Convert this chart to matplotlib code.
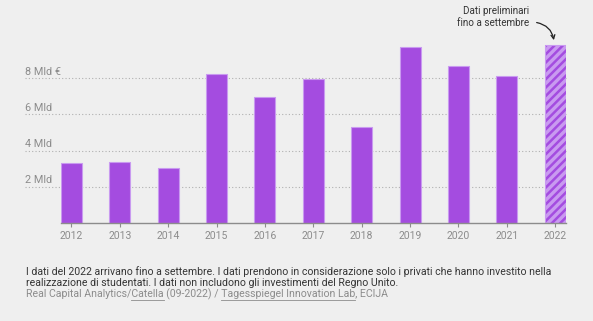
import matplotlib
matplotlib.use("Agg")
import matplotlib.pyplot as plt
from matplotlib.lines import Line2D
from matplotlib.patches import FancyArrowPatch

plt.rcParams['font.family'] = ['Roboto', 'DejaVu Sans']
plt.rcParams['hatch.linewidth'] = 1.8

# investimenti in studentati, miliardi di euro
years = ['2012', '2013', '2014', '2015', '2016', '2017', '2018', '2019', '2020', '2021', '2022']
values = [3.33, 3.39, 3.04, 8.23, 6.94, 7.94, 5.30, 9.71, 8.66, 8.12, 9.82]
ytick_vals = [2, 4, 6, 8]
ytick_labels = ['2 Mld', '4 Mld', '6 Mld', '8 Mld €']

BG = '#efefef'
PURPLE = '#a44ce0'
PURPLE_LIGHT = '#c99af0'
GREY = '#8c8c8c'
DARK = '#353535'
FOOT_FS = 7.6

W, H = 593, 321
fig = plt.figure(figsize=(W / 100, H / 100), dpi=100, facecolor=BG)
ax = fig.add_axes([61 / W, (H - 223) / H, 504.7 / W, 181 / H])
ax.set_facecolor(BG)

bw = 0.434
x = list(range(len(years)))
ax.bar(x[:-1], values[:-1], width=bw, color=PURPLE, edgecolor=PURPLE_LIGHT,
       linewidth=0.8, zorder=3)
# 2022: dati parziali, barra tratteggiata
ax.bar(x[-1], values[-1], width=bw, color=PURPLE_LIGHT, edgecolor=PURPLE,
       hatch='////', linewidth=0, zorder=3)
ax.bar(x[-1], values[-1], width=bw, color='none', edgecolor=PURPLE_LIGHT,
       linewidth=0.8, zorder=4)

ax.set_xlim(-bw / 2, len(years) - 1 + bw / 2)
ax.set_ylim(0, 10)

# griglia tratteggiata che parte sotto le etichette
x_left = (25 - 61) / 504.7
ax.hlines(ytick_vals, x_left, 1, transform=ax.get_yaxis_transform(),
          colors='#b0b0b0', linestyles=(0, (1, 2)), linewidth=0.8,
          clip_on=False, zorder=1)
for v, lab in zip(ytick_vals, ytick_labels):
    ax.annotate(lab, xy=(x_left, v), xycoords=ax.get_yaxis_transform(),
                xytext=(0, 2.6), textcoords='offset points',
                ha='left', va='baseline', fontsize=7.8, color=GREY,
                annotation_clip=False)

ax.set_yticks([])
ax.set_xticks(x)
ax.set_xticklabels(years)
ax.tick_params(axis='x', length=3, width=0.8, color=GREY, labelcolor=GREY,
               labelsize=7.5, pad=3)
for s in ['top', 'right', 'left']:
    ax.spines[s].set_visible(False)
ax.spines['bottom'].set_color(GREY)
ax.spines['bottom'].set_linewidth(1)
ax.spines['bottom'].set_zorder(5)

# nota sul 2022
ax.text(9.458, 11.39, 'Dati preliminari\nfino a settembre', ha='right', va='center',
        multialignment='right', fontsize=7.1, color=DARK, linespacing=1.25, clip_on=False)
arrow = FancyArrowPatch((9.56, 11.1), (9.98, 9.95), connectionstyle='arc3,rad=-0.4',
                        arrowstyle='->', mutation_scale=7, color='#222222',
                        linewidth=0.9, clip_on=False)
ax.add_patch(arrow)

# note e fonti
fig.text(26 / W, 1 - 271.7 / H,
         'I dati del 2022 arrivano fino a settembre. I dati prendono in considerazione '
         'solo i privati che hanno investito nella',
         ha='left', va='center', fontsize=FOOT_FS, color=DARK)
fig.text(26 / W, 1 - 282.9 / H,
         'realizzazione di studentati. I dati non includono gli investimenti del Regno Unito.',
         ha='left', va='center', fontsize=FOOT_FS, color=DARK)

src = 'Real Capital Analytics/Catella (09-2022) / Tagesspiegel Innovation Lab, ECIJA'
src_y = 1 - 294.0 / H
fig.text(26 / W, src_y, src, ha='left', va='center', fontsize=FOOT_FS, color=GREY)

renderer = fig.canvas.get_renderer()


def text_width(s):
    t = fig.text(0, 0, s, fontsize=FOOT_FS)
    w = t.get_window_extent(renderer).width
    t.remove()
    return w


for prefix, word in [('Real Capital Analytics/', 'Catella'),
                     ('Real Capital Analytics/Catella (09-2022) / ', 'Tagesspiegel Innovation Lab')]:
    end = text_width(prefix + word)
    start = end - text_width(word)
    uy = src_y - 5.6 / H
    fig.add_artist(Line2D([26 / W + start / W, 26 / W + end / W], [uy, uy],
                          transform=fig.transFigure, color=GREY, linewidth=0.6))

fig.savefig('out.png', dpi=100, facecolor=BG)
